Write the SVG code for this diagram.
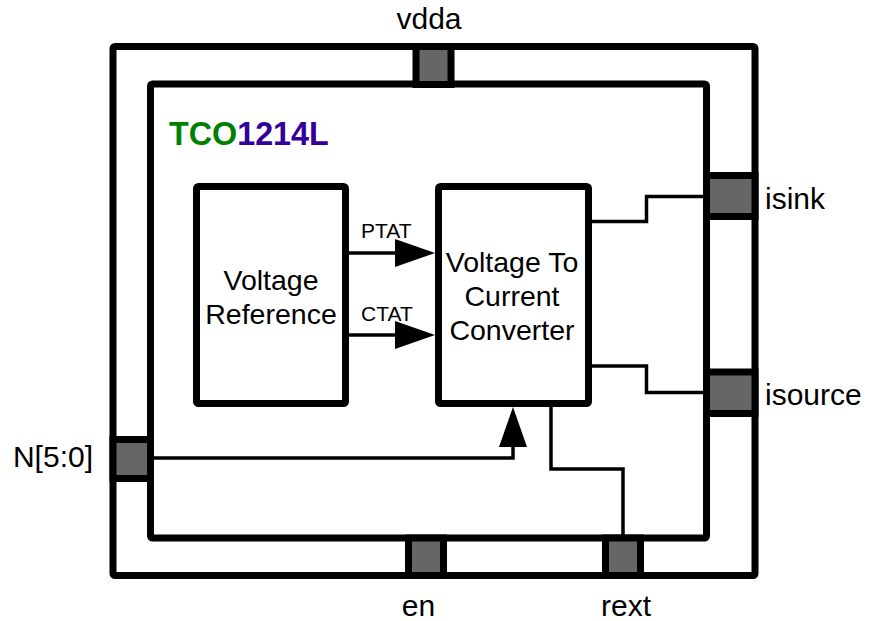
<svg xmlns="http://www.w3.org/2000/svg" width="875" height="621" viewBox="0 0 875 621">
<defs>
<style>
.frame{fill:none;stroke:#000;stroke-width:7;stroke-linejoin:round}
.box{fill:#fff;stroke:#000;stroke-width:7;stroke-linejoin:round}
.pad{fill:#666;stroke:#000;stroke-width:7}
.wire{fill:none;stroke:#000;stroke-width:3.5;stroke-linejoin:miter}
.head{fill:#000;stroke:none}
.lbl{font-family:"Liberation Sans",Arial,sans-serif;font-size:30px;fill:#000}
.btxt{font-family:"Liberation Sans",Arial,sans-serif;font-size:28.5px;fill:#000;text-anchor:middle}
.sig{font-family:"Liberation Sans",Arial,sans-serif;font-size:21px;fill:#000}
</style>
</defs>
<rect width="875" height="621" fill="#fff"/>
<g id="outer"><rect class="frame" x="113" y="46.5" width="642" height="529" rx="2"/></g>
<g id="inner"><rect class="frame" x="150.5" y="84" width="556" height="454" rx="2"/></g>
<g id="title"><text x="169" y="145" font-family="'Liberation Sans',Arial,sans-serif" font-size="32.3" font-weight="bold"><tspan fill="#008000">TCO</tspan><tspan fill="#330099">1214L</tspan></text></g>
<g id="pad-vdda"><rect class="pad" x="416" y="46.5" width="35" height="38"/><text class="lbl" x="429" y="29" text-anchor="middle">vdda</text></g>
<g id="pad-isink"><rect class="pad" x="706.5" y="175.5" width="48.5" height="41"/><text class="lbl" x="765" y="209">isink</text></g>
<g id="pad-isource"><rect class="pad" x="706.5" y="372" width="48.5" height="41.5"/><text class="lbl" x="765" y="405">isource</text></g>
<g id="pad-n"><rect class="pad" x="113" y="439.5" width="37.5" height="39"/><text class="lbl" x="93" y="467" text-anchor="end">N[5:0]</text></g>
<g id="pad-en"><rect class="pad" x="408.5" y="538" width="35" height="37.5"/><text class="lbl" x="418.5" y="616" text-anchor="middle">en</text></g>
<g id="pad-rext"><rect class="pad" x="605.5" y="538" width="35" height="37.5"/><text class="lbl" x="626" y="616" text-anchor="middle">rext</text></g>
<g id="vref"><rect class="box" x="196.5" y="186.5" width="149" height="217" rx="2"/><text class="btxt" x="271" y="290">Voltage</text><text class="btxt" x="271" y="323.5">Reference</text></g>
<g id="v2i"><rect class="box" x="438.5" y="186.5" width="150" height="217" rx="2"/><text class="btxt" x="512" y="271.5">Voltage To</text><text class="btxt" x="512" y="306">Current</text><text class="btxt" x="512" y="340">Converter</text></g>
<g id="connectors">
<path class="wire" d="M349 253H400"/><polygon class="head" points="395,239 435,253 395,267"/>
<path class="wire" d="M349 335H400"/><polygon class="head" points="395,321 435,335 395,349"/>
<path class="wire" d="M152 458H513V445"/><polygon class="head" points="499,447 513,407 527,447"/>
<path class="wire" d="M551 407V469H623V536"/>
<path class="wire" d="M592 221.5H646.5V196.5H705"/>
<path class="wire" d="M592 366H646.5V392.5H705"/>
<text class="sig" x="361" y="238">PTAT</text>
<text class="sig" x="361" y="321">CTAT</text>
</g>
</svg>
